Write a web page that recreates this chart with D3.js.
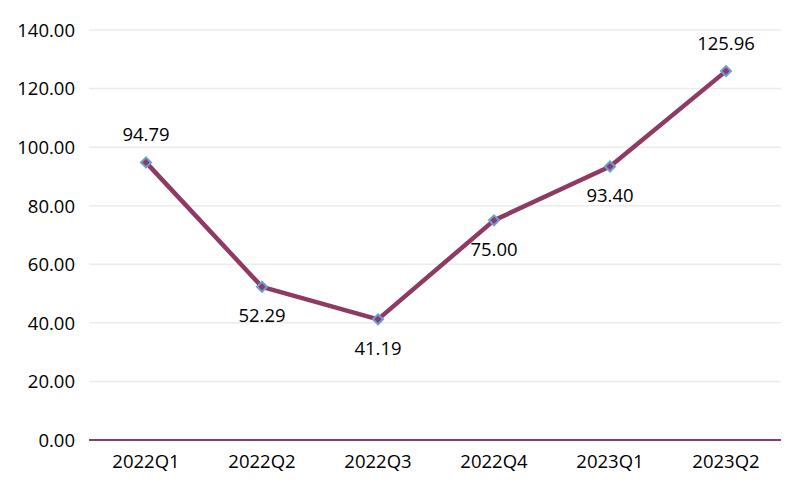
<!DOCTYPE html>
<html><head><meta charset="utf-8">
<script src="https://cdn.jsdelivr.net/npm/d3@7"></script>
<style>body{margin:0;background:#fff}svg{display:block}text{font-family:"Open Sans","Noto Sans",sans-serif}</style>
</head><body><svg id="c" width="805" height="492"></svg>
<script>
const categories = ["2022Q1","2022Q2","2022Q3","2022Q4","2023Q1","2023Q2"];
const values = [94.79, 52.29, 41.19, 75.00, 93.40, 125.96];
const labelPos = ["above","below","below","below","below","above"];
const yTicks = [0,20,40,60,80,100,120,140];

const svg = d3.select("#c");
const x = d3.scaleBand().domain(categories).range([88,784]);
const y = d3.scaleLinear().domain([0,140]).range([440,30]);
const lineColor = "#8e3a63";

svg.append("g").selectAll("line").data(yTicks.filter(d=>d>0)).join("line")
  .attr("x1",89).attr("x2",781).attr("y1",d=>y(d)).attr("y2",d=>y(d))
  .attr("stroke","#ebebeb").attr("stroke-width",1.5);

const yAxis = d3.axisLeft(y).tickValues(yTicks).tickFormat(d=>d.toFixed(2)).tickSize(0).tickPadding(0);
const gy = svg.append("g").attr("transform","translate(75,0)").call(yAxis);
gy.select(".domain").remove();
gy.selectAll("text").attr("font-size",18.5).attr("fill","#000").attr("dy","0.34em");

svg.append("line").attr("x1",89).attr("x2",781).attr("y1",y(0)).attr("y2",y(0))
  .attr("stroke",lineColor).attr("stroke-width",2);

const xAxis = d3.axisBottom(x).tickSize(0).tickPadding(0);
const gx = svg.append("g").attr("transform","translate(0,453)").call(xAxis);
gx.select(".domain").remove();
gx.selectAll("text").attr("font-size",18.5).attr("fill","#000").attr("dy","0.8em");

const cx = (d,i)=>x(categories[i])+x.bandwidth()/2;
svg.append("path").datum(values)
  .attr("d", d3.line().x(cx).y(d=>y(d)))
  .attr("fill","none").attr("stroke",lineColor).attr("stroke-width",4.5).attr("stroke-linejoin","round");

svg.append("g").selectAll("path").data(values).join("path")
  .attr("d", d3.symbol(d3.symbolSquare, 50))
  .attr("transform",(d,i)=>`translate(${cx(d,i)},${y(d)}) rotate(45)`)
  .attr("fill",lineColor).attr("stroke","#6a9fd8").attr("stroke-width",2);

svg.append("g").selectAll("text").data(values).join("text")
  .attr("x",cx).attr("y",(d,i)=>y(d)+(labelPos[i]==="above"?-29:28))
  .attr("text-anchor","middle").attr("dominant-baseline","central")
  .attr("font-size",18.5).attr("fill","#000").text(d=>d.toFixed(2));
</script></body></html>
